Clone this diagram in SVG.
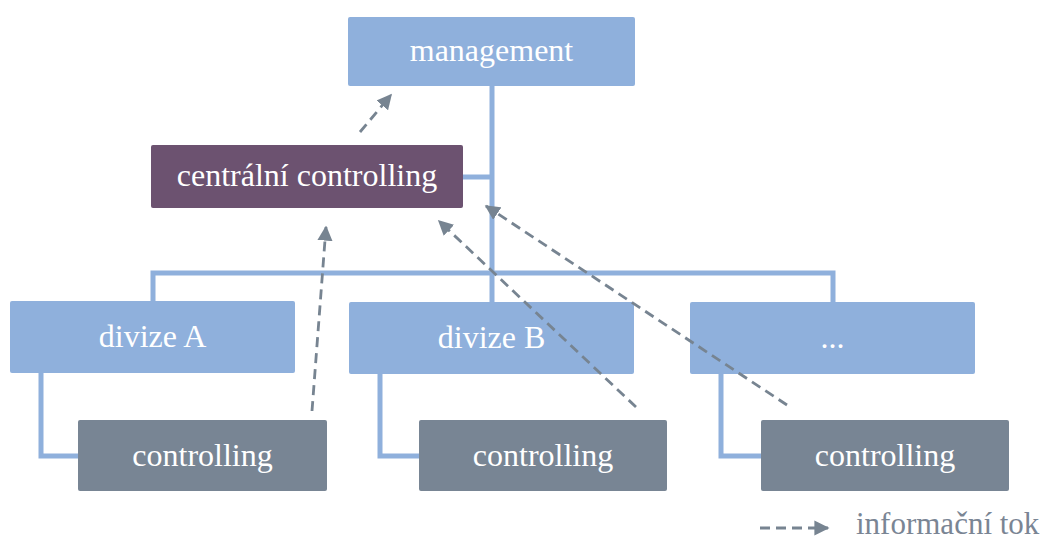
<svg xmlns="http://www.w3.org/2000/svg" width="1048" height="540" viewBox="0 0 1048 540">
  <defs>
    <marker id="arrow" viewBox="0 0 10 10" refX="9" refY="5" markerWidth="5.4" markerHeight="5.4" markerUnits="strokeWidth" orient="auto">
      <path d="M0,0 L10,5 L0,10 Z" fill="#778491"/>
    </marker>
    <style>
      .box { fill: #8fb0dc; }
      .central { fill: #6c5270; }
      .ctrl { fill: #788594; }
      .link { fill: none; stroke: #8fb0dc; stroke-width: 5; }
      .flow { fill: none; stroke: #778491; stroke-width: 2.8; stroke-dasharray: 10 6; marker-end: url(#arrow); }
      text { font-family: 'Liberation Serif', 'Times New Roman', serif; font-size: 32px; }
      .label { fill: #ffffff; text-anchor: middle; }
      .legend { fill: #7a8594; font-size: 31px; }
    </style>
  </defs>

  <!-- organisational links -->
  <g id="links">
    <path class="link" d="M492,86 V303"/>
    <path class="link" d="M463,177 H492"/>
    <path class="link" d="M153,303 V273 H833 V303"/>
    <path class="link" d="M41,373 V456 H80"/>
    <path class="link" d="M380,374 V456 H421"/>
    <path class="link" d="M721,374 V456 H762"/>
  </g>

  <g id="management">
    <rect class="box" x="348" y="17" width="287" height="69" rx="2"/>
    <text class="label" x="491.5" y="61">management</text>
  </g>

  <g id="central-controlling">
    <rect class="central" x="151" y="145" width="312" height="63" rx="2"/>
    <text class="label" x="307" y="186">centrální controlling</text>
  </g>

  <g id="division-a">
    <rect class="box" x="10" y="301" width="285" height="72" rx="2"/>
    <text class="label" x="152.5" y="347">divize A</text>
  </g>

  <g id="division-b">
    <rect class="box" x="349" y="302" width="285" height="72" rx="2"/>
    <text class="label" x="491.5" y="348">divize B</text>
  </g>

  <g id="division-more">
    <rect class="box" x="690" y="302" width="285" height="72" rx="2"/>
    <text class="label" x="832.5" y="348">...</text>
  </g>

  <g id="controlling-a">
    <rect class="ctrl" x="78" y="420" width="249" height="71" rx="2"/>
    <text class="label" x="202.5" y="466">controlling</text>
  </g>

  <g id="controlling-b">
    <rect class="ctrl" x="419" y="420" width="248" height="71" rx="2"/>
    <text class="label" x="543" y="466">controlling</text>
  </g>

  <g id="controlling-more">
    <rect class="ctrl" x="761" y="420" width="248" height="71" rx="2"/>
    <text class="label" x="885" y="466">controlling</text>
  </g>

  <!-- information flow -->
  <g id="flows">
    <path class="flow" d="M360,132 L391,95"/>
    <path class="flow" d="M312,411 L326,227"/>
    <path class="flow" d="M636,407 L439,221"/>
    <path class="flow" d="M787,405 L486,206"/>
  </g>

  <g id="legend">
    <path class="flow" d="M760,528 H828" stroke-dasharray="9 5"/>
    <text class="legend" x="856" y="534">informační tok</text>
  </g>
</svg>
